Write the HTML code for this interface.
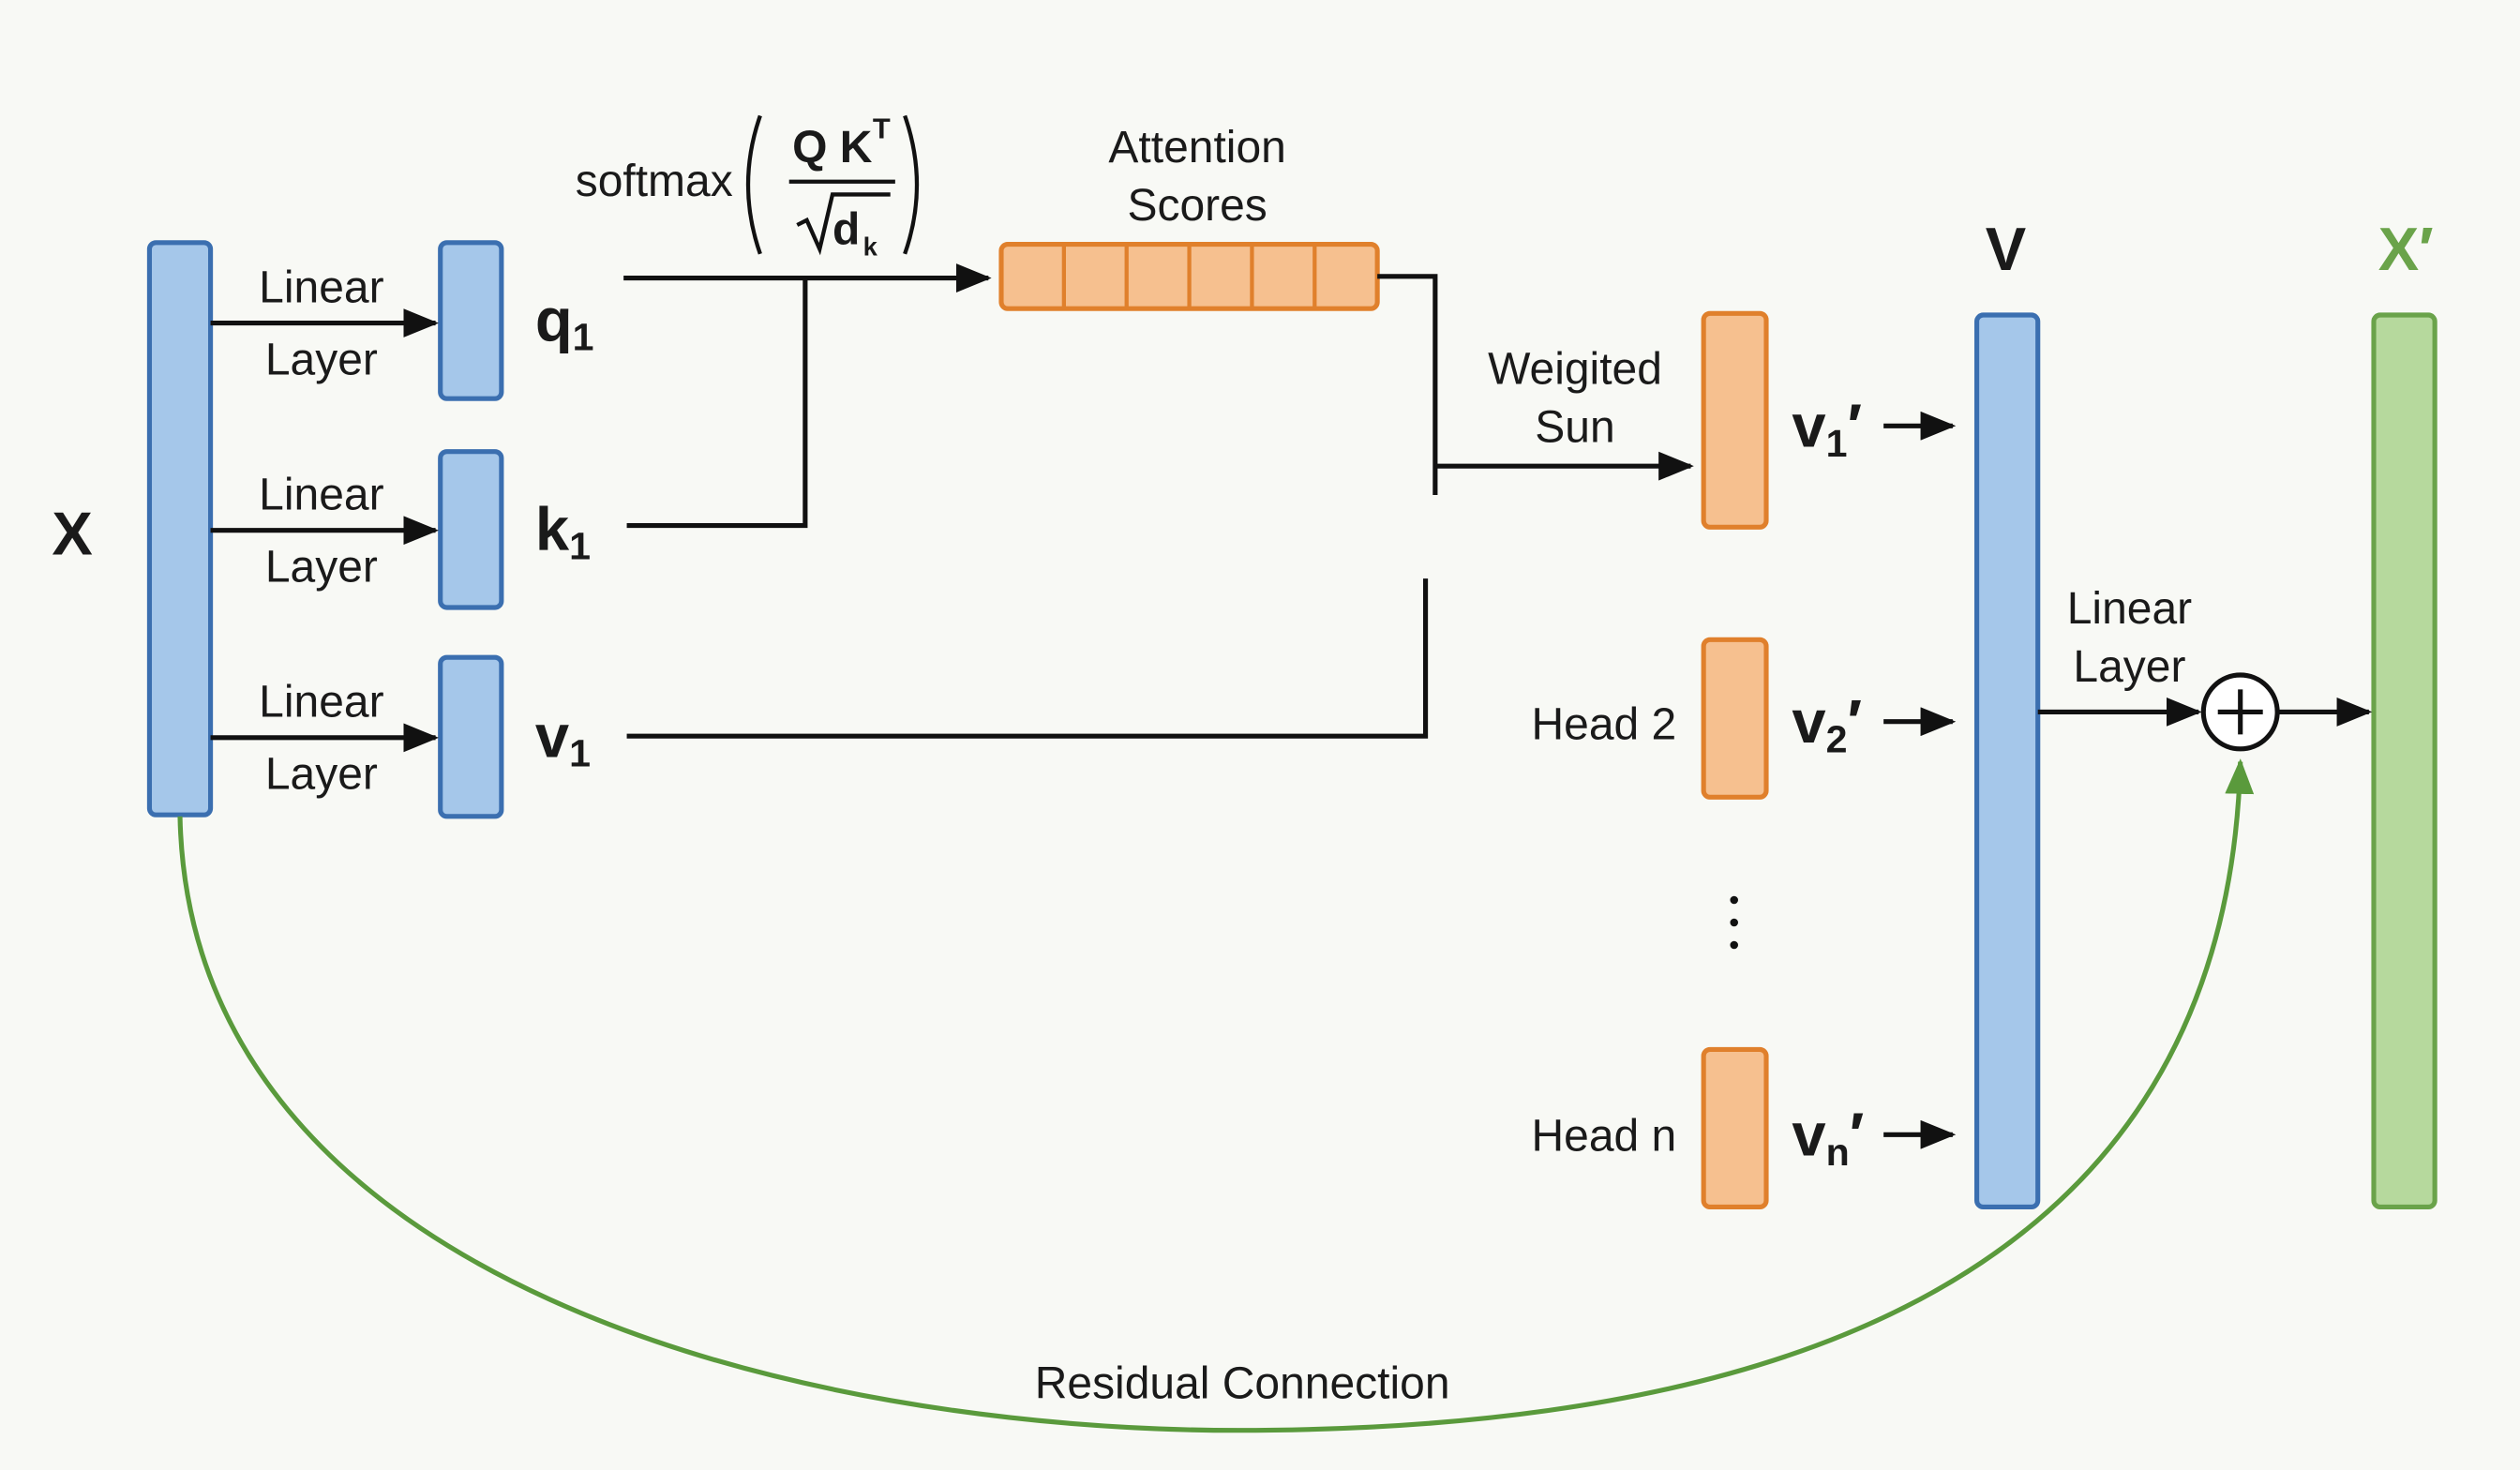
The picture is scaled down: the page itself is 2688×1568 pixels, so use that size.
<!DOCTYPE html>
<html><head><meta charset="utf-8"><style>
html,body{margin:0;padding:0;background:#f8f9f5;}
svg{display:block}
text{font-family:"Liberation Sans",sans-serif;fill:#1a1a1a}
</style></head><body>
<svg width="2688" height="1568" viewBox="0 0 1568 914.67" xmlns="http://www.w3.org/2000/svg">
<defs>
<marker id="ah" markerWidth="10" markerHeight="10" refX="9" refY="5" orient="auto" markerUnits="userSpaceOnUse" viewBox="0 0 10 10"><path d="M0,0 L10,5 L0,10 z" fill="#111"/></marker>
<marker id="ahs" markerWidth="22" markerHeight="18" refX="20" refY="9" orient="auto" markerUnits="userSpaceOnUse" viewBox="0 0 22 18"><path d="M0,0 L22,9 L0,18 z" fill="#111"/></marker>
<marker id="ahg" markerWidth="22" markerHeight="18" refX="20" refY="9" orient="auto" markerUnits="userSpaceOnUse" viewBox="0 0 22 18"><path d="M0,0 L22,9 L0,18 z" fill="#5a9a3c"/></marker>
</defs>
<rect width="1568" height="915" fill="#f8f9f5"/>
<g stroke="#3b6fb0" stroke-width="3" fill="#a5c7ea">
<rect x="93" y="151" width="38" height="356" rx="4"/>
<rect x="274" y="151" width="38" height="97" rx="4"/>
<rect x="274" y="281" width="38" height="97" rx="4"/>
<rect x="274" y="409" width="38" height="99" rx="4"/>
<rect x="1230" y="196" width="38" height="555" rx="4"/>
</g>
<rect x="1477" y="196" width="38" height="555" rx="4" fill="#b6d99d" stroke="#6aa34a" stroke-width="3"/>
<g stroke="#e0802c" stroke-width="3" fill="#f6c08f">
<rect x="623" y="152" width="234" height="40" rx="4"/>
<rect x="1060" y="195" width="39" height="133" rx="4"/>
<rect x="1060" y="398" width="39" height="98" rx="4"/>
<rect x="1060" y="653" width="39" height="98" rx="4"/>
</g>
<g stroke="#e0802c" stroke-width="2.5">
<line x1="662" y1="153" x2="662" y2="191"/><line x1="701" y1="153" x2="701" y2="191"/><line x1="740" y1="153" x2="740" y2="191"/><line x1="779" y1="153" x2="779" y2="191"/><line x1="818" y1="153" x2="818" y2="191"/>
</g>
<g stroke="#111" stroke-width="3" fill="none">
<line x1="131" y1="201" x2="271" y2="201" marker-end="url(#ahs)"/>
<line x1="131" y1="330" x2="271" y2="330" marker-end="url(#ahs)"/>
<line x1="131" y1="459" x2="271" y2="459" marker-end="url(#ahs)"/>
<line x1="388" y1="173" x2="615" y2="173" marker-end="url(#ahs)"/>
<polyline points="390,327 501,327 501,173"/>
<polyline points="857,172 893,172 893,308"/>
<line x1="893" y1="290" x2="1052" y2="290" marker-end="url(#ahs)"/>
<polyline points="390,458 887,458 887,360"/>
<line x1="1172" y1="265" x2="1215" y2="265" marker-end="url(#ahs)"/>
<line x1="1172" y1="449" x2="1215" y2="449" marker-end="url(#ahs)"/>
<line x1="1172" y1="706" x2="1215" y2="706" marker-end="url(#ahs)"/>
<line x1="1268" y1="443" x2="1368" y2="443" marker-end="url(#ahs)"/>
<line x1="1418" y1="443" x2="1474" y2="443" marker-end="url(#ahs)"/>
<circle cx="1394" cy="443" r="23" fill="#fff"/>
<line x1="1380" y1="443" x2="1408" y2="443"/><line x1="1394" y1="429" x2="1394" y2="457"/>
<path d="M473,72 Q458,115 473,158" stroke-width="2.5"/><path d="M563,72 Q578,115 563,158" stroke-width="2.5"/>
<line x1="491" y1="113" x2="557" y2="113" stroke-width="2.5"/>
<polyline points="496,140 502,137 510,155 518,121 554,121" stroke-width="2.5"/>
</g>
<path d="M112,508 C118,800 500,890 770,890 C1100,890 1385,800 1394,474" fill="none" stroke="#5a9a3c" stroke-width="3" marker-end="url(#ahg)"/>
<g font-size="28" text-anchor="middle">
<text x="200" y="188">Linear</text><text x="200" y="233">Layer</text>
<text x="200" y="317">Linear</text><text x="200" y="362">Layer</text>
<text x="200" y="446">Linear</text><text x="200" y="491">Layer</text>
<text x="745" y="101">Attention</text><text x="745" y="137">Scores</text>
<text x="980" y="239">Weigited</text><text x="980" y="275">Sun</text>
<text x="998" y="460">Head 2</text><text x="998" y="716">Head n</text>
<text x="1325" y="388">Linear</text><text x="1325" y="424">Layer</text>
<text x="773" y="870">Residual Connection</text>
<text x="407" y="122">softmax</text>
</g>
<text x="493" y="101" font-size="28" font-weight="bold">Q K</text><text x="543" y="86" font-size="18" font-weight="bold">T</text>
<text x="518" y="152" font-size="28" font-weight="bold">d</text><text x="537" y="159" font-size="16" font-weight="bold">k</text>
<g font-weight="bold" font-size="38">
<text x="45" y="345" text-anchor="middle">X</text>
<text x="333" y="212">q<tspan font-size="24" dy="6">1</tspan></text>
<text x="333" y="342">k<tspan font-size="24" dy="6">1</tspan></text>
<text x="333" y="471">v<tspan font-size="24" dy="6">1</tspan></text>
<text x="1115" y="278">v<tspan font-size="24" dy="6">1</tspan><tspan dy="-6">′</tspan></text>
<text x="1115" y="462">v<tspan font-size="24" dy="6">2</tspan><tspan dy="-6">′</tspan></text>
<text x="1115" y="719">v<tspan font-size="24" dy="6">n</tspan><tspan dy="-6">′</tspan></text>
<text x="1248" y="168" text-anchor="middle">V</text>
<text x="1497" y="168" text-anchor="middle" style="fill:#6aa34a">X′</text>
</g>
<g fill="#111"><circle cx="1079" cy="560" r="2.5"/><circle cx="1079" cy="574" r="2.5"/><circle cx="1079" cy="588" r="2.5"/></g>
</svg>
</body></html>
